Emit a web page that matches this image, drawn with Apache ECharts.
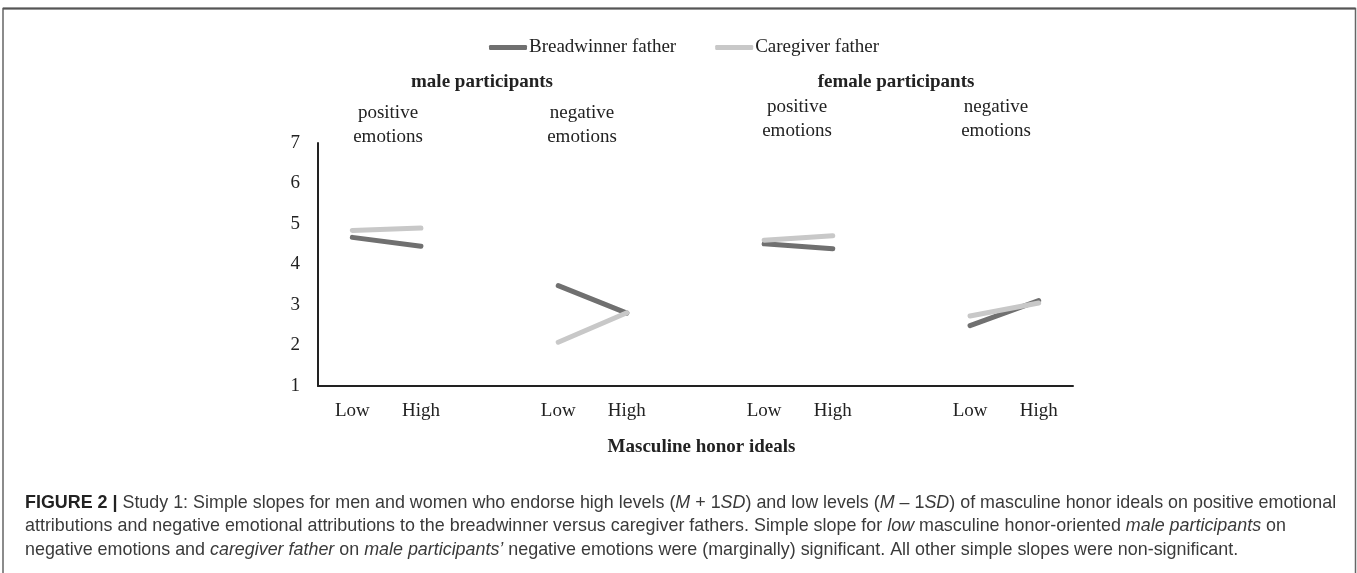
<!DOCTYPE html>
<html>
<head>
<meta charset="utf-8">
<script src="https://cdn.jsdelivr.net/npm/echarts@6/dist/echarts.min.js"></script>
<style>
html,body{margin:0;padding:0;background:#fff;}
#c{width:1357px;height:573px;}
</style>
</head>
<body>
<div id="c"></div>
<script>
const categories = ['Low','High','','Low','High','','Low','High','','Low','High'];
const breadwinner = [4.67, 4.45, null, 3.48, 2.80, null, 4.51, 4.39, null, 2.49, 3.11];
const caregiver   = [4.84, 4.90, null, 2.08, 2.81, null, 4.60, 4.71, null, 2.73, 3.05];
const seriesNames = ['Breadwinner father','Caregiver father'];
const yTicks = {min: 1, max: 7, interval: 1};
const panelTitles = ['male participants','female participants'];
const panelSubs = ['positive\nemotions','negative\nemotions','positive\nemotions','negative\nemotions'];
const xName = 'Masculine honor ideals';
const captionLines = [
  '{b|FIGURE 2 |} Study 1: Simple slopes for men and women who endorse high levels ({i|M} + 1{i|SD}) and low levels ({i|M} \u2013 1{i|SD}) of masculine honor ideals on positive emotional',
  'attributions and negative emotional attributions to the breadwinner versus caregiver fathers. Simple slope for {i|low} masculine honor-oriented {i|male participants} on',
  'negative emotions and {i|caregiver father} on {i|male participants\u2019} negative emotions were (marginally) significant. All other simple slopes were non-significant.'
];

const serif = '"Liberation Serif", "Times New Roman", serif';
const sans = '"Liberation Sans", Arial, sans-serif';
const capSize = 17.9;
const chart = echarts.init(document.getElementById('c'), null, {renderer:'canvas'});

const textEl = (x, y, text, opts) => ({
  type: 'text', x: x, y: y, silent: true,
  style: Object.assign({text: text, fill: '#222', fontFamily: serif, fontSize: 19, align: 'center', verticalAlign: 'middle', lineHeight: 24}, opts || {})
});

const graphics = [
  {type:'polyline', silent:true, shape:{points:[[3,573],[3,8.5],[1355.5,8.5],[1355.5,573]]}, style:{stroke:'#666', lineWidth:1.5, fill:null}},
  {type:'line', silent:true, shape:{x1:3,y1:8.5,x2:1355.5,y2:8.5}, style:{stroke:'#555', lineWidth:2}},
  textEl(482, 82, panelTitles[0], {fontWeight:'bold'}),
  textEl(896, 82, panelTitles[1], {fontWeight:'bold'}),
  textEl(388, 125, panelSubs[0]),
  textEl(582, 125, panelSubs[1]),
  textEl(797, 119, panelSubs[2]),
  textEl(996, 119, panelSubs[3])
];
captionLines.forEach((t, k) => {
  graphics.push({
    type:'text', x: 25, y: 503 + k*23.5, silent:true,
    style:{text: t, fill:'#3a3a3a', fontFamily: sans, fontSize: capSize, align:'left', verticalAlign:'middle',
      rich:{ b:{fontWeight:'bold', fontFamily: sans, fontSize: capSize, fill:'#222'}, i:{fontStyle:'italic', fontFamily: sans, fontSize: capSize, fill:'#3a3a3a'} }}
  });
});

chart.setOption({
  animation: false,
  backgroundColor: '#fff',
  legend: {
    left: 484, top: 33,
    icon: 'roundRect', itemWidth: 38, itemHeight: 5, itemGap: 39,
    textStyle: {fontFamily: serif, fontSize: 19, color: '#222', padding: [0,0,0,-3]},
    data: seriesNames
  },
  grid: {left: 318, right: 284, top: 143, bottom: 187, containLabel: false},
  xAxis: {
    type: 'category', data: categories, boundaryGap: true,
    axisLine: {lineStyle: {color: '#222', width: 2}},
    axisTick: {show: false},
    axisLabel: {fontFamily: serif, fontSize: 19, color: '#222', margin: 16, interval: 0},
    name: xName, nameLocation: 'middle', nameGap: 52,
    nameTextStyle: {fontFamily: serif, fontSize: 19, fontWeight: 'bold', color: '#222', padding: [0,0,0,12]}
  },
  yAxis: {
    type: 'value', min: yTicks.min, max: yTicks.max, interval: yTicks.interval,
    axisLine: {show: true, lineStyle: {color: '#222', width: 2}},
    axisTick: {show: false},
    splitLine: {show: false},
    axisLabel: {fontFamily: serif, fontSize: 19, color: '#222', margin: 18}
  },
  series: [
    {name: seriesNames[0], type: 'line', data: breadwinner, connectNulls: false, showSymbol: false, symbol: 'none',
      color: '#707070', lineStyle: {color: '#707070', width: 5, cap: 'round'}, z: 2},
    {name: seriesNames[1], type: 'line', data: caregiver, connectNulls: false, showSymbol: false, symbol: 'none',
      color: '#c8c8c8', lineStyle: {color: '#c8c8c8', width: 5, cap: 'round'}, z: 3}
  ],
  graphic: graphics
});
</script>
</body>
</html>
